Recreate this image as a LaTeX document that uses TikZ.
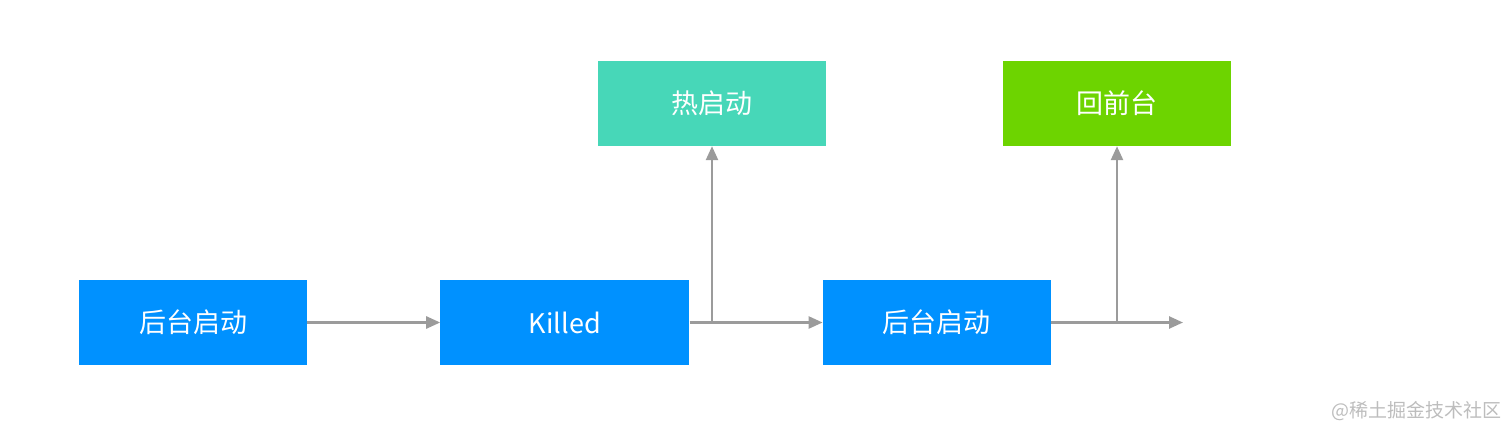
\documentclass[tikz,border=0pt]{standalone}
\usepackage{fontspec}
\setmainfont{Noto Sans CJK SC}
\usetikzlibrary{positioning}
\usetikzlibrary{arrows.meta}
\definecolor{stateblue}{HTML}{0091FF}
\definecolor{hotteal}{HTML}{47D7B8}
\definecolor{frontgreen}{HTML}{6DD400}
\definecolor{linkgray}{HTML}{9B9B9B}
\definecolor{markgray}{HTML}{BDBDBD}
\begin{document}
\begin{tikzpicture}[
  x=1pt,y=-1pt,node distance=133pt,
  box/.style={minimum width=228pt,minimum height=85pt,inner sep=0pt,text=white,font=\fontsize{27}{27}\selectfont},
  link/.style={draw=linkgray,line width=2.5pt,-{Triangle[length=14pt,width=12pt]}}
  ]
  \useasboundingbox (0,0) rectangle (1512,436);
  \node (background)  [box,fill=stateblue] at (193,322.5) {后台启动};
  \node (killed)      [box,fill=stateblue,minimum width=249pt,right=of background] {Killed};
  \node (relaunch)    [box,fill=stateblue,right=of killed] {后台启动};
  \node (hotstart)    [box,fill=hotteal] at (712,103.5) {热启动};
  \node (foreground)  [box,fill=frontgreen] at (1117,103.5) {回前台};
  \coordinate (tail) at (1183,322.5);
  \node (watermark)   [text=markgray,font=\fontsize{19}{19}\selectfont] at (1416,411) {@稀土掘金技术社区};
  \draw[link] (background) -- (killed);
  \draw[link] (killed) -- (relaunch);
  \draw[link] (hotstart.south |- killed.east) -- (hotstart);
  \draw[link] (relaunch) -- (tail);
  \draw[link] (foreground.south |- relaunch.east) -- (foreground);
\end{tikzpicture}
\end{document}
